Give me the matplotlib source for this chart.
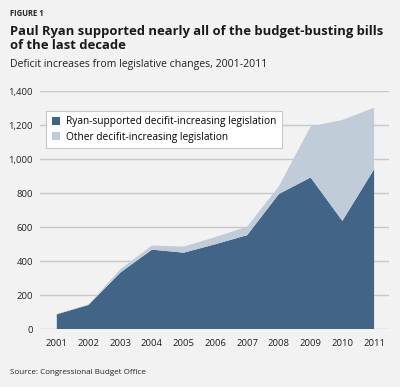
import matplotlib
matplotlib.use('Agg')
import matplotlib.pyplot as plt
import numpy as np

years = ['2001', '2002', '2003', '2004', '2005', '2006', '2007', '2008', '2009', '2010', '2011']
ryan = [88, 143, 333, 468, 450, 500, 553, 795, 892, 637, 940]
other = [2, 3, 20, 24, 36, 42, 50, 45, 300, 593, 362]
yticks = [0, 200, 400, 600, 800, 1000, 1200, 1400]

DARK = '#416487'
LIGHT = '#c0ccd8'
BG = '#f2f2f2'

plt.rcParams['font.family'] = ['Open Sans', 'DejaVu Sans']

fig = plt.figure(figsize=(4.0, 3.87), dpi=100, facecolor=BG)
ax = fig.add_axes([40 / 400, 1 - 329.3 / 387, 349 / 400, 238.3 / 387], facecolor=BG)

x = np.arange(len(years))
ax.stackplot(x, ryan, other, colors=[DARK, LIGHT], linewidth=0,
             labels=['Ryan-supported decifit-increasing legislation',
                     'Other decifit-increasing legislation'])

ax.set_xlim(-0.53, 10.47)
ax.set_ylim(0, 1400)
ax.set_yticks(yticks)
ax.set_yticklabels([f'{v:,}' for v in yticks])
ax.set_xticks(x)
ax.set_xticklabels(years)
ax.grid(axis='y', color='#c8c8c8', lw=1)
ax.set_axisbelow(True)
for s in ax.spines.values():
    s.set_visible(False)
ax.tick_params(length=0, labelsize=6.8, colors='#222222')
ax.tick_params(axis='y', pad=5)
ax.tick_params(axis='x', pad=7)

leg = ax.legend(loc='upper left', bbox_to_anchor=(6 / 349, 1 - 19.7 / 238.3),
                fontsize=7.3, frameon=True, fancybox=False, handlelength=0.8,
                handleheight=0.8, handletextpad=0.6, borderpad=0.55,
                labelspacing=0.45, borderaxespad=0)
leg.get_frame().set_edgecolor('#c8c8c8')
leg.get_frame().set_linewidth(0.8)
leg.get_frame().set_facecolor('white')
leg.get_frame().set_alpha(1)

fig.text(10 / 400, 1 - 14 / 387, 'FIGURE 1', fontsize=5.5, fontweight='bold',
         color='#222222', va='center')
fig.text(10 / 400, 1 - 38.5 / 387,
         'Paul Ryan supported nearly all of the budget-busting bills\nof the last decade',
         fontsize=9.4, fontweight='bold', color='#1a1a1a', va='center',
         linespacing=1.15)
fig.text(10 / 400, 1 - 65 / 387, 'Deficit increases from legislative changes, 2001-2011',
         fontsize=7.6, color='#222222', va='center')
fig.text(10 / 400, 1 - 372 / 387, 'Source: Congressional Budget Office',
         fontsize=5.8, color='#222222', va='center')

plt.savefig('out.png', dpi=100, facecolor=BG)
